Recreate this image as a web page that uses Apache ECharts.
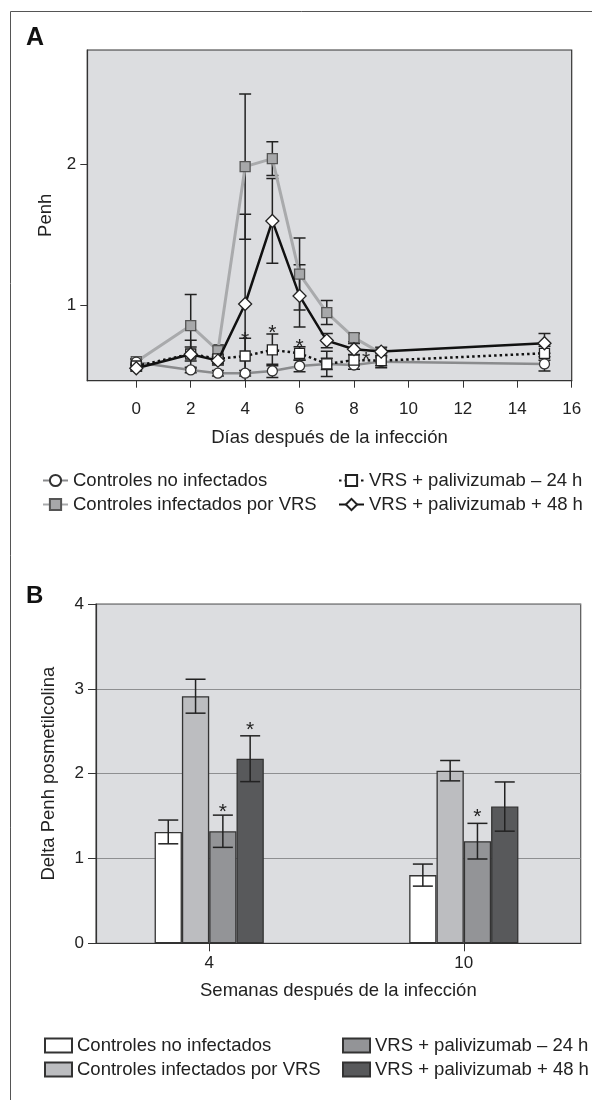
<!DOCTYPE html>
<html><head><meta charset="utf-8">
<script src="https://cdn.jsdelivr.net/npm/echarts@6/dist/echarts.min.js"></script>
<style>html,body{margin:0;padding:0;background:#fff}#c{width:603px;height:1109px}</style>
</head><body><div id="c"></div>
<script>
// ---------- Panel A data ----------
const daysAll = [0, 2, 3, 4, 5, 6, 7, 8, 9, 15];
const daysVRS = [0, 2, 3, 4, 5, 6, 7, 8, 9];
const noInf    = [0.597, 0.542, 0.519, 0.519, 0.535, 0.570, 0.585, 0.577, 0.601, 0.585];
const noInfErr = [0.02, 0.02, 0.02, 0.02, 0.047, 0.04, 0.04, 0.03, 0.03, 0.05];
const vrs      = [0.601, 0.856, 0.679, 1.981, 2.038, 1.221, 0.948, 0.771, 0.66];
const vrsErr   = [0.02, 0.22, 0.04, 0.514, 0.12, 0.255, 0.085, 0.03, 0.02];
const pal24    = [0.57, 0.655, 0.62, 0.641, 0.684, 0.66, 0.585, 0.612, 0.608, 0.66];
const pal24Err = [0.02, 0.05, 0.03, 0.125, 0.113, 0.047, 0.09, 0.04, 0.05, 0.05];
const pal48    = [0.554, 0.653, 0.608, 1.009, 1.597, 1.066, 0.75, 0.689, 0.672, 0.731];
const pal48Err = [0.02, 0.1, 0.03, 0.636, 0.3, 0.22, 0.05, 0.04, 0.03, 0.07];
const starsAX  = [4, 5, 6, 8.44];
const starsAY  = [0.79, 0.837, 0.742, 0.648];
const xTicksA  = [0, 2, 4, 6, 8, 10, 12, 14, 16];
const yTicksA  = [1, 2];

// ---------- Panel B data ----------
const weeks   = [4, 10];
const xTicksB = [4, 10];
const barNoInf = [1.313, 0.804], barNoInfErr = [0.14, 0.13];
const barVRS   = [2.913, 2.035], barVRSErr   = [0.2, 0.12];
const bar24    = [1.321, 1.204], bar24Err    = [0.19, 0.21];
const bar48    = [2.176, 1.612], bar48Err    = [0.27, 0.29];
const starsBWeek = [4, 4, 10];
const starsBBar  = [2, 3, 2];
const starsBVal  = [1.607, 2.568, 1.548];

const names = ['Controles no infectados', 'Controles infectados por VRS',
               'VRS + palivizumab \u2013 24 h', 'VRS + palivizumab + 48 h'];

const FONT = '"Liberation Sans", Arial, Helvetica, sans-serif';
const TXT = '#222';
const BG = '#dcdde0';
const BARW = 27.3;

function errRender(capHalf, offsetFn) {
  return function (params, api) {
    const x = api.value(0), y = api.value(1), e = api.value(2);
    const off = offsetFn ? offsetFn(api) : 0;
    const t = api.coord([x, y + e]), b = api.coord([x, y - e]);
    const cx = t[0] + off;
    const st = { stroke: '#222', lineWidth: 1.5 };
    return { type: 'group', children: [
      { type: 'line', shape: { x1: cx, y1: t[1], x2: cx, y2: b[1] }, style: st },
      { type: 'line', shape: { x1: cx - capHalf, y1: t[1], x2: cx + capHalf, y2: t[1] }, style: st },
      { type: 'line', shape: { x1: cx - capHalf, y1: b[1], x2: cx + capHalf, y2: b[1] }, style: st }
    ]};
  };
}
function starRender(offsetFn) {
  return function (params, api) {
    const c = api.coord([api.value(0), api.value(1)]);
    const off = offsetFn ? offsetFn(api) : 0;
    return { type: 'text', x: c[0] + off, y: c[1] + 5,
      style: { text: '*', fontSize: 21, fontFamily: FONT, fill: TXT, align: 'center', verticalAlign: 'middle' } };
  };
}
const zip = (xs, ys, es) => xs.map((x, i) => es ? [x, ys[i], es[i]] : [x, ys[i]]);

const series = [];
// A: error bars
[[daysVRS, vrs, vrsErr], [daysAll, noInf, noInfErr], [daysAll, pal24, pal24Err], [daysAll, pal48, pal48Err]].forEach(d => {
  series.push({ type: 'custom', xAxisIndex: 0, yAxisIndex: 0, z: 1, clip: true, silent: true,
    renderItem: errRender(6), data: zip(d[0], d[1], d[2]) });
});
// A: lines
series.push({ name: names[1], type: 'line', xAxisIndex: 0, yAxisIndex: 0, z: 3, data: zip(daysVRS, vrs),
  symbol: 'rect', symbolSize: 10, lineStyle: { color: '#a9aaac', width: 3 },
  itemStyle: { color: '#a7a8aa', borderColor: '#555', borderWidth: 1.3 } });
series.push({ name: names[0], type: 'line', xAxisIndex: 0, yAxisIndex: 0, z: 4, data: zip(daysAll, noInf),
  symbol: 'circle', symbolSize: 10, lineStyle: { color: '#8a8b8d', width: 2.5 },
  itemStyle: { color: '#fff', borderColor: '#333', borderWidth: 1.3 } });
series.push({ name: names[2], type: 'line', xAxisIndex: 0, yAxisIndex: 0, z: 5, data: zip(daysAll, pal24),
  symbol: 'rect', symbolSize: 10, lineStyle: { color: '#111', width: 2.5, type: [2.5, 3] },
  itemStyle: { color: '#fff', borderColor: '#222', borderWidth: 1.3 } });
series.push({ name: names[3], type: 'line', xAxisIndex: 0, yAxisIndex: 0, z: 6, data: zip(daysAll, pal48),
  symbol: 'diamond', symbolSize: [13, 13], lineStyle: { color: '#111', width: 2.5 },
  itemStyle: { color: '#fff', borderColor: '#222', borderWidth: 1.3 } });
series.push({ type: 'custom', xAxisIndex: 0, yAxisIndex: 0, z: 7, silent: true,
  renderItem: starRender(), data: zip(starsAX, starsAY) });

// B: bars
const barDefs = [[barNoInf, barNoInfErr, '#ffffff'], [barVRS, barVRSErr, '#bcbdc0'],
                 [bar24, bar24Err, '#939497'], [bar48, bar48Err, '#58595b']];
barDefs.forEach((d, k) => {
  series.push({ name: 'B:' + names[k], type: 'bar', xAxisIndex: 1, yAxisIndex: 1, z: 2,
    barWidth: BARW, barGap: '0%', data: zip(weeks, d[0]),
    itemStyle: { color: d[2], borderColor: '#333', borderWidth: 1.3 } });
});
series.push({ type: 'custom', xAxisIndex: 1, yAxisIndex: 1, z: 5, silent: true,
  renderItem: errRender(10, api => (api.value(3) - 1.5) * BARW),
  data: barDefs.flatMap((d, k) => weeks.map((w, i) => [w, d[0][i], d[1][i], k])) });
series.push({ type: 'custom', xAxisIndex: 1, yAxisIndex: 1, z: 6, silent: true,
  renderItem: starRender(api => (api.value(2) - 1.5) * BARW),
  data: starsBWeek.map((w, i) => [w, starsBVal[i], starsBBar[i]]) });

const axisLine = { show: true, onZero: false, lineStyle: { color: '#333', width: 1.2 } };
const lbl = { color: TXT, fontSize: 17, fontFamily: FONT };
const nameTS = { color: TXT, fontSize: 18.5, fontFamily: FONT };

function leg(name, left, top, fmt, icon) {
  const o = { show: true, left: left, top: top, padding: 0, itemWidth: 25, itemHeight: 14, itemGap: 0,
    selectedMode: false, data: [name],
    textStyle: { color: TXT, fontSize: 18.5, fontFamily: FONT } };
  if (fmt) o.formatter = fmt;
  if (icon) { o.icon = icon; o.itemWidth = 27; }
  return o;
}
const strip = n => n.replace('B:', '');

const option = {
  animation: false,
  backgroundColor: '#fff',
  grid: [
    { left: 87.3, top: 50, right: 31.3, bottom: 728.3, show: true, backgroundColor: BG, borderColor: '#333', borderWidth: 1.2 },
    { left: 96, top: 604, right: 22.3, bottom: 165.7, show: true, backgroundColor: BG, borderColor: '#555', borderWidth: 1.2 }
  ],
  xAxis: [
    { gridIndex: 0, type: 'value', min: -1.8, max: 16, axisLine,
      axisTick: { show: true, customValues: xTicksA, length: 7, lineStyle: { color: '#333' } },
      axisLabel: { customValues: xTicksA, margin: 20, ...lbl }, splitLine: { show: false },
      name: 'Días después de la infección', nameLocation: 'middle', nameGap: 48, nameTextStyle: nameTS },
    { gridIndex: 1, type: 'value', min: 1.332, max: 12.755, axisLine,
      axisTick: { show: true, customValues: xTicksB, length: 8, lineStyle: { color: '#333' } },
      axisLabel: { customValues: xTicksB, margin: 12, ...lbl }, splitLine: { show: false },
      name: 'Semanas después de la infección', nameLocation: 'middle', nameGap: 38, nameTextStyle: nameTS }
  ],
  yAxis: [
    { gridIndex: 0, type: 'value', min: 0.466, max: 2.807, axisLine,
      axisTick: { show: true, customValues: yTicksA, length: 7, lineStyle: { color: '#333' } },
      axisLabel: { customValues: yTicksA, margin: 11, ...lbl }, splitLine: { show: false },
      name: 'Penh', nameLocation: 'middle', nameGap: 32, nameTextStyle: nameTS },
    { gridIndex: 1, type: 'value', min: 0, max: 4, interval: 1, axisLine,
      axisTick: { show: true, length: 8, lineStyle: { color: '#333' } },
      axisLabel: { margin: 12, ...lbl },
      splitLine: { show: true, lineStyle: { color: '#8e8f91', width: 1 } },
      name: 'Delta Penh posmetilcolina', nameLocation: 'middle', nameGap: 38, nameTextStyle: nameTS }
  ],
  legend: [
    leg(names[0], 42, 471), leg(names[1], 42, 495),
    leg(names[2], 338, 471), leg(names[3], 338, 495),
    leg('B:' + names[0], 44, 1036, strip, 'rect'), leg('B:' + names[1], 44, 1060, strip, 'rect'),
    leg('B:' + names[2], 342, 1036, strip, 'rect'), leg('B:' + names[3], 342, 1060, strip, 'rect')
  ],
  graphic: [
    { type: 'polyline', shape: { points: [[10.5, 1100], [10.5, 11.5], [592, 11.5]] }, style: { stroke: '#555', lineWidth: 1, fill: null } },
    { type: 'text', x: 26, y: 38, style: { text: 'A', fontSize: 25, fontWeight: 'bold', fontFamily: FONT, fill: '#111', verticalAlign: 'middle' } },
    { type: 'text', x: 26, y: 596, style: { text: 'B', fontSize: 24, fontWeight: 'bold', fontFamily: FONT, fill: '#111', verticalAlign: 'middle' } }
  ],
  series
};
echarts.init(document.getElementById('c'), null, { renderer: 'canvas' }).setOption(option);
</script>
</body></html>
